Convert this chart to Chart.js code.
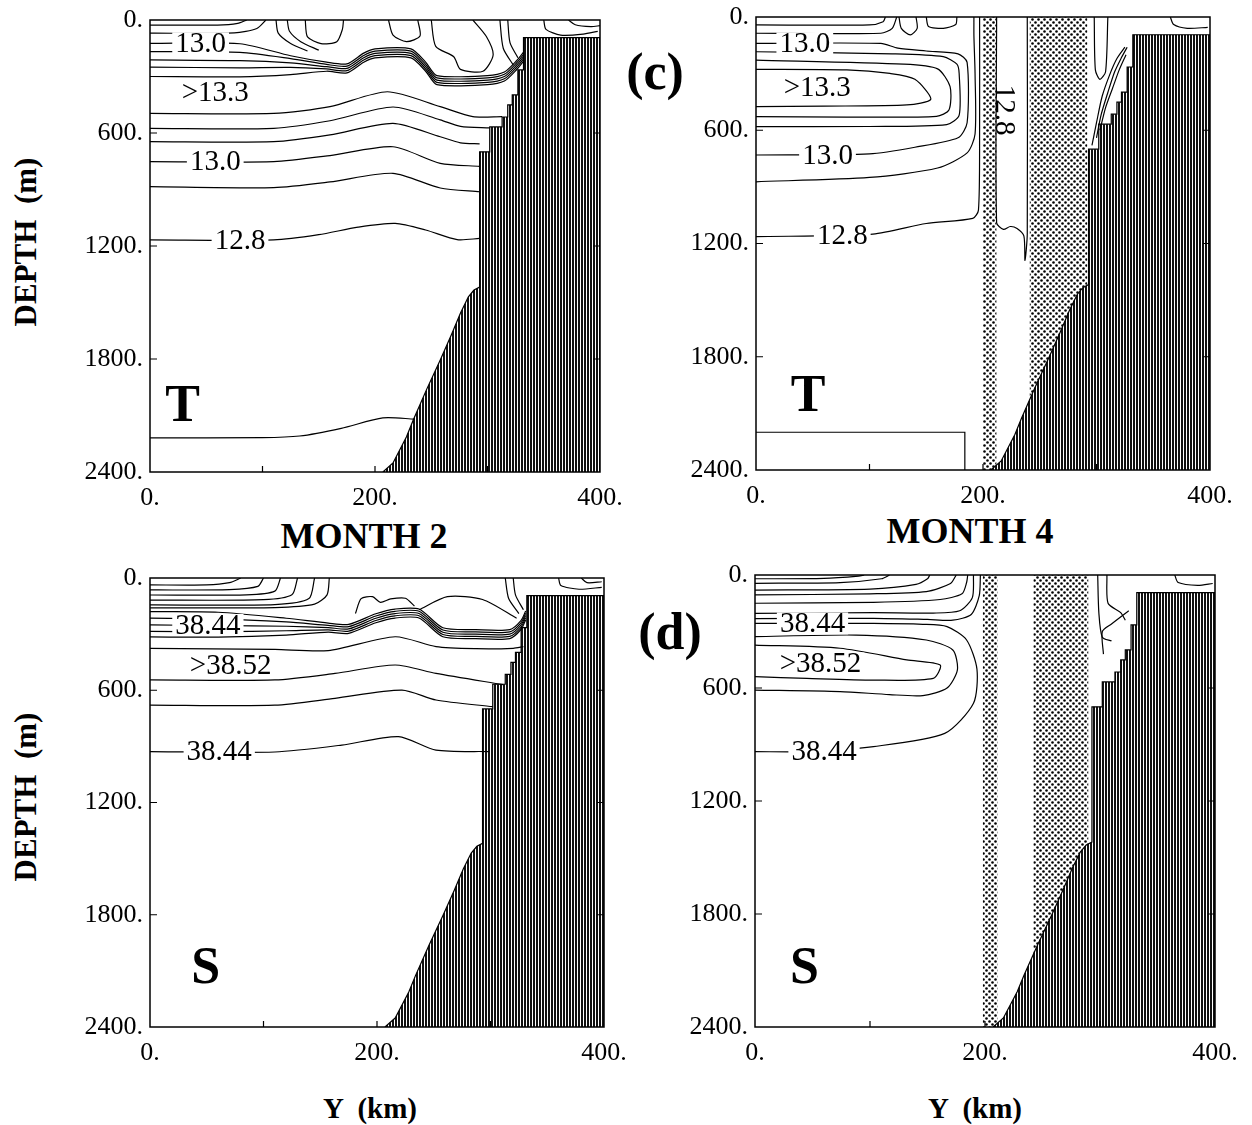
<!DOCTYPE html>
<html><head><meta charset="utf-8">
<script src="https://cdn.jsdelivr.net/npm/chart.js@4.4.1/dist/chart.umd.min.js"></script>
<style>
html,body{margin:0;padding:0;background:#fff;}
#wrap{position:relative;width:1252px;height:1125px;overflow:hidden;background:#fff;}
.cv{position:absolute;}
.txt{position:absolute;font-family:"Liberation Serif","Times New Roman",serif;font-weight:bold;color:#000;white-space:pre;transform:translate(-50%,-50%);line-height:1;}
</style></head><body>
<div id="wrap">
  <canvas class="cv" id="c1"></canvas>
  <canvas class="cv" id="c2"></canvas>
  <canvas class="cv" id="c3"></canvas>
  <canvas class="cv" id="c4"></canvas>
  <div class="txt" style="left:655px;top:72px;font-size:52px">(c)</div>
  <div class="txt" style="left:670px;top:632px;font-size:52px">(d)</div>
  <div class="txt" style="left:364px;top:536px;font-size:36px">MONTH 2</div>
  <div class="txt" style="left:970px;top:531px;font-size:36px">MONTH 4</div>
  <div class="txt" style="left:25px;top:242px;font-size:31px;transform:translate(-50%,-50%) rotate(-90deg)">DEPTH  (m)</div>
  <div class="txt" style="left:25px;top:797px;font-size:31px;transform:translate(-50%,-50%) rotate(-90deg)">DEPTH  (m)</div>
  <div class="txt" style="left:370px;top:1108px;font-size:29px">Y  (km)</div>
  <div class="txt" style="left:975px;top:1108px;font-size:29px">Y  (km)</div>
</div>
<script>
// ---------- axis / tick data ----------
const X_TICKS = [0, 200, 400];
const Y_TICKS = [0, 600, 1200, 1800, 2400];
const X_MINOR = [100, 200, 300];
const Y_MINOR = [600, 1200, 1800];

// ---------- bottom topography (Y km, depth m) ----------
const BATHY = [[207,2400],[216,2352],[228,2213],[234,2124],[246,1960],[258,1805],[268,1670],[276,1556],[283,1470],[288,1434],[293,1418],[293,700],[302,700],[302,568],[313,568],[313,515],[318,515],[318,451],[322,451],[322,398],[327,398],[327,265],[332,265],[332,94],[400,94]];

// ---------- stippled strips (Y km ranges), month 4 ----------
const T4_STRIP_A = [200, 212];
const T4_STRIP_B = [241, 292];
const S4_STRIP_A = [198, 211];
const S4_STRIP_B = [242, 290];

// ---------- Panel T, month 2 ----------
const T2_TOP1 = [[0,27],[60,27],[78,18],[86,0]];
const T2_TOP2 = [[0,70],[75,68],[95,45],[103,0]];
const T2_B1 = [[0,124],[80,126],[125,190],[157,224],[175,233],[190,176],[200,153],[232,153],[245,224],[255,295],[300,295],[315,276],[326,215],[332,171]];
const T2_B2 = [[0,168],[80,172],[125,205],[157,236],[175,245],[190,188],[200,165],[232,165],[245,236],[255,307],[300,307],[315,288],[326,227],[332,183]];
const T2_B3 = [[0,212],[80,216],[125,228],[157,248],[175,257],[190,200],[200,177],[232,177],[245,248],[255,319],[300,319],[315,300],[326,239],[332,195]];
const T2_B4 = [[0,250],[80,254],[125,252],[157,260],[175,269],[190,212],[200,189],[232,189],[245,260],[255,331],[300,331],[315,312],[326,251],[332,207]];
const T2_B5 = [[0,300],[80,302],[125,290],[157,272],[175,281],[190,224],[200,201],[232,201],[245,272],[255,343],[300,343],[315,324],[326,263],[332,219]];
const T2_F1 = [[112,0],[114,70],[125,125],[140,165]];
const T2_F2 = [[122,0],[124,60],[134,115],[150,160]];
const T2_G1 = [[138,0],[140,90],[152,125],[166,115],[171,50],[172,0]];
const T2_G2 = [[212,0],[216,80],[228,115],[240,85],[238,0]];
const T2_G3 = [[250,0],[254,140],[270,195],[276,262],[296,272],[305,186],[299,88],[287,0]];
const T2_G4 = [[311,0],[314,150],[323,240]];
const T2_G5 = [[318,0],[320,120],[327,200]];
const T2_SH1 = [[350,0],[352,50],[365,80],[385,75],[398,60]];
const T2_SH2 = [[372,0],[378,25],[392,35],[400,30]];
const T2_L1 = [[0,496],[110,496],[160,460],[211,381],[258,460],[287,513],[313,513]];
const T2_L2 = [[0,575],[110,575],[160,535],[216,462],[258,530],[276,565],[302,573]];
const T2_L3 = [[0,646],[110,646],[160,610],[216,549],[258,620],[276,652],[293,658]];
const T2_L4 = [[0,752],[110,752],[160,720],[216,673],[258,761],[293,777]];
const T2_L5 = [[0,885],[110,890],[160,860],[216,814],[258,892],[293,912]];
const T2_L6 = [[0,1168],[110,1168],[150,1140],[185,1100],[218,1080],[245,1115],[273,1166],[293,1160]];
const T2_L7 = [[0,2219],[100,2218],[133,2209],[170,2168],[207,2113],[235,2119]];
const T2_LABELS = [{t:'13.0',x:45,y:124},{t:'>13.3',x:58,y:382},{t:'13.0',x:58,y:752},{t:'12.8',x:80,y:1168}];
const T2_LETTER = {t:'T',x:29,y:2060};

// ---------- Panel T, month 4 ----------
const T4_TOP1 = [[0,42],[100,42],[112,25],[114,0]];
const T4_TOP2 = [[0,86],[110,86],[120,60],[124,0]];
const T4_C0 = [[0,277],[80,280],[118,299],[140,330],[154,436],[133,466],[60,472],[0,475]];
const T4_C1 = [[0,228],[130,250],[160,275],[171,369],[170,493],[159,526],[80,530],[0,528]];
const T4_C2 = [[0,184],[120,195],[165,210],[177,250],[179,300],[179,520],[168,570],[100,580],[0,581]];
const T4_C3 = [[0,140],[110,140],[125,165],[150,180],[178,195],[186,240],[186,560],[178,640],[140,690],[100,725],[0,731]];
const T4_C4 = [[192,0],[192,100],[193,300],[193,620],[186,720],[160,800],[100,850],[0,873]];
const T4_C5 = [[0,1164],[103,1150],[150,1094],[191,1067],[196,1023],[197,600],[197,0]];
const T4_U = [[212,0],[212,1090],[218,1125],[224,1110],[230,1120],[236,1160],[237,1290],[239,1150],[239,0]];
const T4_BOT = [[0,2200],[184,2200],[184,2400]];
const T4_G1 = [[126,0],[128,60],[136,95],[142,60],[141,0]];
const T4_G2 = [[150,0],[152,50],[165,60],[176,40],[177,0]];
const T4_S1 = [[296,680],[300,560],[305,420],[312,300],[318,220],[325,160]];
const T4_S2 = [[300,640],[304,520],[310,400],[316,290],[322,215],[327,160]];
const T4_S3 = [[303,600],[308,480],[314,380],[320,280],[326,200]];
const T4_V1 = [[298,0],[299,280],[303,330],[308,290],[310,0]];
const T4_SH1 = [[365,0],[368,40],[380,60],[398,55]];
const T4_LABELS = [{t:'13.0',x:43,y:140},{t:'>13.3',x:54,y:371},{t:'13.0',x:63,y:731},{t:'12.8',x:76,y:1155},{t:'12.8',x:219,y:493,rot:true}];
const T4_LETTER = {t:'T',x:46,y:2014};

// ---------- Panel S, month 2 ----------
const S2_F1 = [[0,37],[50,37],[70,25],[80,0]];
const S2_F2 = [[0,64],[70,62],[95,45],[100,0]];
const S2_F3 = [[0,91],[85,90],[110,70],[115,0]];
const S2_F4 = [[0,118],[100,116],[125,90],[130,0]];
const S2_F5 = [[0,144],[110,142],[140,110],[145,0]];
const S2_F6 = [[0,160],[110,158],[145,140],[156,90],[158,0]];
const S2_B1 = [[0,180],[60,183],[120,215],[157,241],[175,248],[199,191],[216,166],[237,166],[258,266],[287,276],[317,276],[327,226],[331,176]];
const S2_B2 = [[0,215],[60,218],[120,235],[157,253],[175,260],[199,203],[216,178],[237,178],[258,278],[287,288],[317,288],[327,238],[331,188]];
const S2_B3 = [[0,251],[60,254],[120,258],[157,265],[175,272],[199,215],[216,190],[237,190],[258,290],[287,300],[317,300],[327,250],[331,200]];
const S2_B4 = [[0,285],[60,287],[120,282],[157,277],[175,284],[199,227],[216,202],[237,202],[258,302],[287,312],[317,312],[327,262],[331,212]];
const S2_B5 = [[0,315],[60,316],[120,305],[157,289],[175,296],[199,239],[216,214],[237,214],[258,314],[287,324],[317,324],[327,274],[331,224]];
const S2_L1 = [[0,376],[110,382],[157,388],[216,314],[252,367],[287,378],[320,376],[329,367]];
const S2_L2 = [[0,545],[110,545],[163,510],[216,465],[252,510],[311,570]];
const S2_L3 = [[0,679],[110,680],[163,643],[222,599],[252,652],[302,688]];
const S2_L4 = [[0,928],[110,930],[169,893],[219,848],[252,920],[299,928]];
const S2_G1 = [[237,170],[262,100],[293,115],[323,215]];
const S2_G2 = [[181,190],[186,110],[196,100],[203,130],[212,112],[225,108],[233,150]];
const S2_V1 = [[313,0],[316,110],[325,190]];
const S2_V2 = [[320,0],[322,90],[329,170]];
const S2_SH1 = [[360,0],[362,40],[378,60],[398,50]];
const S2_SH2 = [[380,0],[385,25],[398,20]];
const S2_LABELS = [{t:'38.44',x:51,y:251},{t:'>38.52',x:71,y:465},{t:'38.44',x:61,y:929}];
const S2_LETTER = {t:'S',x:49,y:2095};

// ---------- Panel S, month 4 ----------
const S4_H0 = [[0,20],[60,18],[90,6],[95,0]];
const S4_H1 = [[0,44],[74,40],[110,20],[117,0]];
const S4_H2 = [[0,80],[100,75],[140,50],[150,20],[152,0]];
const S4_H3 = [[0,106],[100,100],[149,88],[170,45],[175,0]];
const S4_H4 = [[0,150],[103,145],[161,130],[180,100],[184,40],[185,0]];
const S4_H5 = [[0,204],[103,200],[155,202],[178,190],[189,120],[190,0]];
const S4_H6 = [[0,232],[103,230],[150,236],[172,240],[188,210],[195,110],[196,0]];
const S4_K0 = [[0,372],[74,389],[132,451],[161,478],[155,549],[103,558],[45,549],[0,540]];
const S4_K1 = [[0,327],[88,319],[149,345],[172,398],[176,504],[167,600],[146,640],[117,635],[74,619],[0,611]];
const S4_K2 = [[0,257],[103,257],[146,262],[167,274],[184,345],[193,500],[190,681],[165,841],[103,911],[45,938],[0,938]];
const S4_R1 = [[298,0],[299,200],[302,330],[310,350]];
const S4_R2 = [[306,0],[307,150],[318,200],[322,240]];
const S4_R3 = [[303,420],[302,300],[310,260],[325,190]];
const S4_SH1 = [[365,0],[368,40],[385,55],[398,45]];
const S4_LABELS = [{t:'38.44',x:50,y:257},{t:'>38.52',x:57,y:470},{t:'38.44',x:60,y:938}];
const S4_LETTER = {t:'S',x:43,y:2097};

// ---------- helpers ----------
const SERIF = '"Liberation Serif","Times New Roman",serif';
const pts = a => a.map(p => ({x: p[0], y: p[1]}));

function tile(kind) {
  const c = document.createElement('canvas');
  const g = c.getContext('2d');
  if (kind === 'hatch') {
    c.width = 3; c.height = 4;
    g.fillStyle = '#fff'; g.fillRect(0, 0, 3, 4);
    g.fillStyle = '#111'; g.fillRect(0, 0, 2, 4);
  } else {
    c.width = 6; c.height = 6;
    g.fillStyle = '#fff'; g.fillRect(0, 0, 6, 6);
    g.fillStyle = '#000';
    g.beginPath(); g.arc(1.5, 1.5, 1.3, 0, Math.PI * 2); g.fill();
    g.beginPath(); g.arc(4.5, 4.5, 1.3, 0, Math.PI * 2); g.fill();
  }
  return c;
}

const contour = a => ({data: pts(a), borderColor: '#000', borderWidth: 1.2, pointRadius: 0, fill: false, tension: 0.25, order: 1});
const boxLine = a => ({data: pts(a), borderColor: '#000', borderWidth: 1.2, pointRadius: 0, fill: false, tension: 0, order: 1});
const bathy = pat => ({data: pts(BATHY), borderColor: '#000', borderWidth: 1.2, pointRadius: 0, backgroundColor: pat, fill: {value: 2400}, tension: 0, order: 2});
const strip = (r, pat) => ({data: [{x: r[0], y: 0}, {x: r[1], y: 0}], borderColor: 'rgba(0,0,0,0)', borderWidth: 0, pointRadius: 0, backgroundColor: pat, fill: {value: 2400}, tension: 0, order: 3});

const framePlugin = {
  id: 'frame',
  afterDatasetsDraw(chart, args, opts) {
    const {ctx, chartArea: a, scales} = chart;
    const xs = scales.x, ys = scales.y;
    ctx.save();
    ctx.strokeStyle = '#000';
    ctx.lineWidth = 1.5;
    ctx.strokeRect(a.left, a.top, a.right - a.left, a.bottom - a.top);
    ctx.lineWidth = 1.2;
    ctx.beginPath();
    Y_MINOR.forEach(v => { const p = ys.getPixelForValue(v); ctx.moveTo(a.left, p); ctx.lineTo(a.left + 7, p); ctx.moveTo(a.right, p); ctx.lineTo(a.right - 7, p); });
    X_MINOR.forEach(v => { const p = xs.getPixelForValue(v); ctx.moveTo(p, a.bottom); ctx.lineTo(p, a.bottom - 6); });
    ctx.stroke();
    // contour labels
    ctx.font = '29px ' + SERIF;
    ctx.textAlign = 'center';
    ctx.textBaseline = 'middle';
    (opts.labels || []).forEach(l => {
      const px = xs.getPixelForValue(l.x), py = ys.getPixelForValue(l.y);
      const w = ctx.measureText(l.t).width;
      ctx.save();
      ctx.translate(px, py);
      if (l.rot) ctx.rotate(Math.PI / 2);
      if (!l.rot) { ctx.fillStyle = '#fff'; ctx.fillRect(-w / 2 - 3, -11, w + 6, 22); }
      ctx.fillStyle = '#000';
      ctx.fillText(l.t, 0, 1);
      ctx.restore();
    });
    if (opts.letter) {
      ctx.font = 'bold 52px ' + SERIF;
      ctx.fillStyle = '#000';
      ctx.fillText(opts.letter.t, xs.getPixelForValue(opts.letter.x), ys.getPixelForValue(opts.letter.y));
    }
    ctx.restore();
  }
};

function makeChart(id, box, datasets, labels, letter) {
  const cv = document.getElementById(id);
  const W = box.w + 130, H = box.h + 60;
  cv.width = W; cv.height = H;
  cv.style.left = (box.left - 100) + 'px';
  cv.style.top = (box.top - 20) + 'px';
  cv.style.width = W + 'px'; cv.style.height = H + 'px';
  const ctx = cv.getContext('2d');
  const hatch = ctx.createPattern(tile('hatch'), 'repeat');
  const stip = ctx.createPattern(tile('stip'), 'repeat');
  const ds = datasets(hatch, stip);
  return new Chart(ctx, {
    type: 'line',
    data: {datasets: ds},
    plugins: [framePlugin],
    options: {
      responsive: false, animation: false, events: [],
      layout: {padding: {top: 20, right: 30, left: 0, bottom: 0}},
      plugins: {legend: {display: false}, tooltip: {enabled: false}, frame: {labels: labels, letter: letter}},
      scales: {
        x: {type: 'linear', min: 0, max: 400,
            afterBuildTicks: s => { s.ticks = X_TICKS.map(v => ({value: v})); },
            afterFit: s => { s.height = 40; s.paddingLeft = 0; s.paddingRight = 0; },
            grid: {display: false, drawTicks: false}, border: {display: false},
            ticks: {padding: 11, color: '#000', font: {family: SERIF, size: 26}, maxRotation: 0, autoSkip: false, callback: v => v + '.'}},
        y: {type: 'linear', min: 0, max: 2400, reverse: true,
            afterBuildTicks: s => { s.ticks = Y_TICKS.map(v => ({value: v})); },
            afterFit: s => { s.width = 100; s.paddingTop = 0; s.paddingBottom = 0; },
            grid: {display: false, drawTicks: false}, border: {display: false},
            ticks: {padding: 7, color: '#000', font: {family: SERIF, size: 26}, autoSkip: false, callback: v => v + '.'}}
      }
    }
  });
}

makeChart('c1', {left: 150, top: 20, w: 450, h: 452}, (h, s) => [
  bathy(h),
  ...[T2_TOP1, T2_TOP2, T2_B1, T2_B2, T2_B3, T2_B4, T2_B5, T2_F1, T2_F2, T2_G1, T2_G2, T2_G3, T2_G4, T2_G5, T2_SH1, T2_SH2,
      T2_L1, T2_L2, T2_L3, T2_L4, T2_L5, T2_L6, T2_L7].map(contour)
], T2_LABELS, T2_LETTER);

makeChart('c2', {left: 756, top: 17, w: 454, h: 453}, (h, s) => [
  strip(T4_STRIP_A, s), strip(T4_STRIP_B, s), bathy(h), boxLine(T4_BOT),
  ...[T4_TOP1, T4_TOP2, T4_C0, T4_C1, T4_C2, T4_C3, T4_C4, T4_C5, T4_U, T4_G1, T4_G2, T4_S1, T4_S2, T4_S3, T4_V1, T4_SH1].map(contour)
], T4_LABELS, T4_LETTER);

makeChart('c3', {left: 150, top: 578, w: 454, h: 449}, (h, s) => [
  bathy(h),
  ...[S2_F1, S2_F2, S2_F3, S2_F4, S2_F5, S2_F6, S2_B1, S2_B2, S2_B3, S2_B4, S2_B5, S2_L1, S2_L2, S2_L3, S2_L4, S2_G1, S2_G2, S2_V1, S2_V2, S2_SH1, S2_SH2].map(contour)
], S2_LABELS, S2_LETTER);

makeChart('c4', {left: 755, top: 575, w: 460, h: 452}, (h, s) => [
  strip(S4_STRIP_A, s), strip(S4_STRIP_B, s), bathy(h),
  ...[S4_H0, S4_H1, S4_H2, S4_H3, S4_H4, S4_H5, S4_H6, S4_K0, S4_K1, S4_K2, S4_R1, S4_R2, S4_R3, S4_SH1].map(contour)
], S4_LABELS, S4_LETTER);
</script>
</body></html>
